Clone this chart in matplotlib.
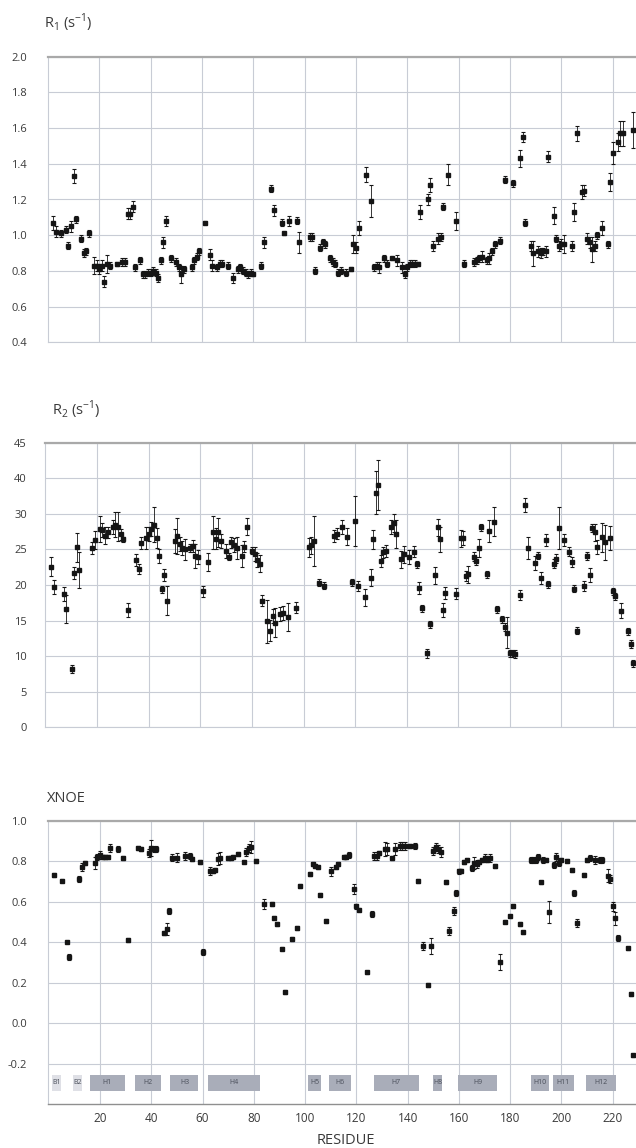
import matplotlib
matplotlib.use('Agg')
import matplotlib.pyplot as plt
from matplotlib.patches import Rectangle

plt.rcParams['font.family'] = ['Open Sans', 'DejaVu Sans']
plt.rcParams['mathtext.fontset'] = 'custom'
plt.rcParams['mathtext.rm'] = 'Open Sans'

# ---------------- data ----------------
r1_res = [2, 3, 5, 7, 8, 9, 10, 11, 13, 14, 15, 16, 18, 19, 20, 21, 22, 23, 24, 27, 29, 30, 31, 32, 33, 34,
          36, 37, 38, 39, 40, 41, 42, 43, 44, 45, 46, 48, 50, 51, 52, 53, 56, 57, 58, 59, 61, 63, 64, 66, 67,
          68, 70, 72, 74, 75, 76, 77, 78, 79, 80, 83, 84, 87, 88, 91, 92, 94, 97, 98, 102, 103, 104, 106, 107,
          108, 110, 111, 112, 113, 114, 116, 118, 119, 120, 121, 124, 126, 127, 128, 129, 131, 132, 134, 136,
          138, 139, 140, 141, 142, 143, 144, 145, 148, 149, 150, 152, 153, 154, 156, 159, 162, 166, 167, 168,
          169, 171, 172, 173, 174, 176, 178, 181, 184, 185, 186, 188, 189, 191, 192, 193, 194, 195, 197, 198,
          199, 200, 201, 204, 205, 206, 208, 209, 210, 211, 212, 213, 214, 216, 218, 219, 220, 222, 223, 224, 228]
r1_val = [1.07, 1.02, 1.01, 1.03, 0.94, 1.05, 1.33, 1.09, 0.98, 0.90, 0.91, 1.01, 0.83, 0.83, 0.81, 0.83, 0.74,
          0.84, 0.83, 0.84, 0.85, 0.85, 1.12, 1.12, 1.16, 0.82, 0.86, 0.78, 0.78, 0.79, 0.79, 0.80, 0.79, 0.76,
          0.86, 0.96, 1.08, 0.87, 0.85, 0.82, 0.78, 0.81, 0.82, 0.86, 0.88, 0.91, 1.07, 0.89, 0.83, 0.82, 0.84,
          0.84, 0.83, 0.76, 0.81, 0.82, 0.80, 0.79, 0.78, 0.79, 0.78, 0.83, 0.96, 1.26, 1.14, 1.07, 1.01, 1.08,
          1.08, 0.96, 0.99, 0.99, 0.80, 0.93, 0.96, 0.95, 0.87, 0.85, 0.84, 0.79, 0.80, 0.79, 0.81, 0.95, 0.93,
          1.04, 1.34, 1.19, 0.82, 0.83, 0.82, 0.87, 0.84, 0.87, 0.86, 0.82, 0.78, 0.82, 0.84, 0.84, 0.84, 0.84,
          1.13, 1.20, 1.28, 0.94, 0.98, 0.99, 1.16, 1.34, 1.08, 0.84, 0.85, 0.86, 0.87, 0.88, 0.86, 0.87, 0.91,
          0.95, 0.97, 1.31, 1.29, 1.43, 1.55, 1.07, 0.94, 0.90, 0.91, 0.90, 0.91, 0.91, 1.44, 1.11, 0.98, 0.94,
          0.95, 0.95, 0.94, 1.13, 1.57, 1.24, 1.25, 0.98, 0.96, 0.92, 0.94, 1.00, 1.04, 0.95, 1.30, 1.46, 1.52,
          1.57, 1.57, 1.59]
r1_err = [0.04, 0.03, 0.02, 0.02, 0.02, 0.03, 0.04, 0.02, 0.02, 0.02, 0.02, 0.02, 0.05, 0.03, 0.03, 0.03, 0.03,
          0.05, 0.02, 0.01, 0.02, 0.02, 0.03, 0.03, 0.03, 0.02, 0.02, 0.02, 0.02, 0.02, 0.02, 0.02, 0.02, 0.02,
          0.02, 0.03, 0.03, 0.02, 0.02, 0.02, 0.05, 0.02, 0.02, 0.02, 0.02, 0.02, 0.01, 0.03, 0.03, 0.02, 0.02,
          0.02, 0.02, 0.03, 0.02, 0.02, 0.02, 0.02, 0.02, 0.02, 0.01, 0.02, 0.03, 0.02, 0.03, 0.02, 0.01, 0.03,
          0.02, 0.06, 0.02, 0.02, 0.02, 0.02, 0.02, 0.02, 0.02, 0.02, 0.02, 0.02, 0.02, 0.02, 0.01, 0.05, 0.03,
          0.04, 0.04, 0.09, 0.02, 0.02, 0.03, 0.02, 0.02, 0.01, 0.03, 0.03, 0.02, 0.02, 0.02, 0.02, 0.02, 0.01,
          0.04, 0.03, 0.04, 0.03, 0.03, 0.02, 0.02, 0.06, 0.05, 0.02, 0.02, 0.02, 0.02, 0.03, 0.02, 0.03, 0.02,
          0.02, 0.02, 0.02, 0.02, 0.05, 0.03, 0.02, 0.03, 0.07, 0.03, 0.03, 0.02, 0.03, 0.03, 0.05, 0.02, 0.03,
          0.03, 0.05, 0.03, 0.05, 0.04, 0.04, 0.03, 0.03, 0.03, 0.07, 0.03, 0.02, 0.04, 0.02, 0.05, 0.06, 0.05,
          0.07, 0.07, 0.10]

r2_res = [2, 3, 7, 8, 10, 11, 12, 13, 18, 19, 21, 22, 23, 24, 26, 27, 28, 29, 30, 32, 35, 36, 37, 39, 40, 41,
          42, 43, 44, 45, 46, 47, 50, 51, 52, 53, 54, 56, 57, 58, 59, 61, 63, 65, 66, 67, 68, 70, 71, 72, 73,
          74, 76, 77, 78, 80, 81, 82, 83, 84, 86, 87, 88, 89, 91, 92, 94, 97, 102, 103, 104, 106, 108, 112,
          113, 115, 117, 119, 120, 121, 124, 126, 127, 128, 129, 130, 131, 132, 134, 135, 136, 138, 139, 141,
          143, 144, 145, 146, 148, 149, 151, 152, 153, 154, 155, 159, 161, 162, 163, 164, 166, 167, 168, 169,
          171, 172, 174, 175, 177, 178, 179, 180, 181, 182, 184, 186, 187, 190, 191, 192, 194, 195, 197, 198,
          199, 201, 203, 204, 205, 206, 209, 210, 211, 212, 213, 214, 216, 217, 219, 220, 221, 223, 226, 227, 228]
r2_val = [22.6, 19.7, 18.7, 16.6, 8.2, 21.7, 25.3, 22.1, 25.2, 26.3, 27.9, 27.7, 26.9, 27.4, 28.1, 28.5, 28.2,
          27.1, 26.4, 16.5, 23.5, 22.2, 25.9, 26.6, 27.2, 27.9, 28.5, 26.6, 24.1, 19.4, 21.4, 17.8, 26.2, 26.9,
          25.8, 25.2, 25.0, 25.2, 25.5, 24.1, 23.9, 19.1, 23.2, 27.4, 26.5, 27.4, 26.2, 24.8, 24.0, 26.0, 25.6,
          25.2, 24.1, 25.4, 28.2, 24.8, 24.4, 23.5, 23.0, 17.8, 14.9, 13.6, 15.6, 14.7, 15.9, 16.1, 15.5, 16.8,
          25.3, 25.6, 26.2, 20.3, 19.9, 26.9, 27.2, 28.1, 26.8, 20.4, 29.0, 19.8, 18.3, 21.0, 26.4, 33.0, 34.0,
          23.4, 24.6, 24.8, 28.2, 28.7, 27.2, 23.6, 24.3, 23.9, 24.7, 22.9, 19.6, 16.7, 10.4, 14.5, 21.4, 28.1,
          26.4, 16.5, 18.9, 18.8, 26.6, 26.6, 21.2, 21.5, 24.0, 23.4, 25.2, 28.1, 21.5, 27.6, 28.9, 16.6, 15.2,
          14.1, 13.3, 10.4, 10.4, 10.3, 18.6, 31.2, 25.2, 23.1, 24.1, 21.0, 26.3, 20.1, 23.0, 23.7, 28.0, 26.3,
          24.7, 23.2, 19.5, 13.6, 19.9, 24.1, 21.4, 28.0, 27.4, 25.3, 26.7, 26.0, 26.6, 19.1, 18.4, 16.4, 13.5,
          11.7, 9.0]
r2_err = [1.4, 1.0, 1.0, 2.0, 0.5, 0.9, 2.0, 2.5, 0.8, 1.3, 1.8, 1.0, 1.2, 0.8, 1.0, 1.8, 2.0, 0.8, 0.3, 1.0,
          0.8, 0.7, 0.8, 1.5, 1.0, 1.0, 2.5, 1.4, 1.0, 0.5, 0.9, 2.0, 1.7, 2.5, 1.0, 1.0, 1.5, 0.6, 0.8, 1.7,
          1.0, 0.8, 1.3, 2.3, 1.5, 2.0, 1.0, 1.0, 0.5, 0.8, 1.0, 1.5, 1.5, 0.8, 1.2, 0.5, 1.0, 1.0, 1.2, 0.8,
          3.0, 1.5, 1.0, 2.0, 1.0, 1.0, 2.0, 0.8, 1.3, 1.2, 3.5, 0.5, 0.5, 0.8, 0.8, 1.0, 1.2, 0.5, 3.5, 0.7,
          1.2, 1.2, 1.3, 3.0, 3.5, 0.8, 0.8, 0.8, 1.0, 1.3, 2.0, 1.2, 1.2, 1.0, 0.8, 0.5, 0.8, 0.5, 0.6, 0.5,
          1.2, 1.2, 1.8, 1.0, 0.8, 0.8, 1.2, 1.0, 0.7, 1.2, 0.6, 0.6, 1.2, 0.5, 0.5, 1.6, 2.0, 0.5, 0.5, 0.5,
          2.2, 0.5, 0.5, 0.6, 0.7, 1.0, 1.5, 1.0, 0.5, 0.8, 0.8, 0.5, 0.6, 0.6, 3.0, 0.8, 0.6, 0.7, 0.5, 0.5,
          0.7, 0.6, 1.0, 0.6, 1.2, 1.0, 2.0, 2.5, 1.7, 0.5, 0.5, 1.0, 0.5, 0.5, 0.5]
r2_tick_labels = ['0', '5', '10', '15', '20', '25', '30', '40', '45']

noe_res = [2, 5, 7, 8, 12, 13, 14, 18, 19, 20, 21, 22, 23, 24, 27, 29, 31, 35, 36, 39, 40, 41, 42, 45, 46, 47,
           48, 50, 53, 55, 56, 59, 60, 63, 64, 65, 66, 67, 70, 71, 72, 74, 76, 77, 78, 79, 81, 84, 87, 88, 89,
           91, 92, 95, 97, 98, 102, 103, 104, 105, 106, 108, 110, 112, 113, 115, 116, 117, 119, 120, 121, 124,
           126, 127, 128, 129, 131, 132, 134, 135, 137, 138, 139, 141, 143, 144, 146, 148, 149, 150, 151, 152,
           153, 155, 156, 158, 159, 160, 161, 162, 163, 165, 166, 167, 168, 169, 170, 171, 172, 174, 176, 178,
           180, 181, 184, 185, 188, 189, 190, 191, 192, 193, 194, 195, 197, 198, 199, 200, 202, 204, 205, 206,
           209, 210, 211, 213, 215, 216, 218, 219, 220, 221, 222, 226, 227, 228]
noe_val = [0.732, 0.704, 0.40, 0.326, 0.712, 0.773, 0.79, 0.79, 0.82, 0.83, 0.82, 0.82, 0.82, 0.866, 0.86, 0.814,
           0.41, 0.865, 0.86, 0.84, 0.866, 0.86, 0.86, 0.447, 0.466, 0.556, 0.818, 0.818, 0.826, 0.826, 0.81,
           0.796, 0.35, 0.75, 0.75, 0.757, 0.81, 0.814, 0.818, 0.814, 0.82, 0.836, 0.795, 0.847, 0.864, 0.87,
           0.80, 0.59, 0.59, 0.52, 0.49, 0.367, 0.154, 0.415, 0.469, 0.675, 0.737, 0.785, 0.777, 0.773, 0.632,
           0.505, 0.749, 0.773, 0.785, 0.822, 0.822, 0.83, 0.663, 0.576, 0.56, 0.25, 0.54, 0.827, 0.827, 0.84,
           0.86, 0.859, 0.814, 0.86, 0.875, 0.875, 0.875, 0.875, 0.875, 0.70, 0.38, 0.187, 0.38, 0.852, 0.872,
           0.86, 0.844, 0.698, 0.454, 0.555, 0.645, 0.749, 0.753, 0.798, 0.806, 0.768, 0.79, 0.785, 0.798, 0.806,
           0.814, 0.806, 0.814, 0.777, 0.30, 0.50, 0.528, 0.579, 0.489, 0.448, 0.806, 0.806, 0.806, 0.819, 0.696,
           0.806, 0.806, 0.548, 0.78, 0.819, 0.79, 0.806, 0.803, 0.757, 0.642, 0.494, 0.732, 0.806, 0.814, 0.806,
           0.806, 0.806, 0.729, 0.712, 0.576, 0.517, 0.42, 0.37, 0.144, -0.159]
noe_err = [0.01, 0.008, 0.006, 0.015, 0.015, 0.02, 0.01, 0.03, 0.015, 0.02, 0.01, 0.01, 0.01, 0.02, 0.015, 0.01,
           0.01, 0.01, 0.01, 0.02, 0.04, 0.015, 0.015, 0.01, 0.03, 0.015, 0.015, 0.02, 0.02, 0.015, 0.01, 0.01,
           0.015, 0.02, 0.01, 0.01, 0.03, 0.03, 0.01, 0.01, 0.01, 0.01, 0.006, 0.02, 0.02, 0.03, 0.01, 0.025,
           0.01, 0.008, 0.008, 0.008, 0.008, 0.01, 0.01, 0.01, 0.008, 0.01, 0.01, 0.01, 0.01, 0.01, 0.02, 0.01,
           0.01, 0.01, 0.01, 0.015, 0.025, 0.01, 0.008, 0.008, 0.015, 0.02, 0.02, 0.01, 0.035, 0.03, 0.01, 0.03,
           0.02, 0.02, 0.02, 0.01, 0.015, 0.01, 0.02, 0.01, 0.04, 0.02, 0.02, 0.02, 0.025, 0.01, 0.02, 0.02,
           0.015, 0.01, 0.01, 0.01, 0.01, 0.015, 0.03, 0.02, 0.01, 0.01, 0.02, 0.01, 0.02, 0.01, 0.04, 0.008,
           0.008, 0.008, 0.008, 0.008, 0.015, 0.015, 0.015, 0.015, 0.008, 0.015, 0.01, 0.055, 0.015, 0.02, 0.015,
           0.01, 0.008, 0.01, 0.015, 0.02, 0.01, 0.01, 0.015, 0.02, 0.015, 0.015, 0.03, 0.02, 0.02, 0.03, 0.015,
           0.008, 0.008, 0.008]

ss_labels = ['B1', 'B2', 'H1', 'H2', 'H3', 'H4', 'H5', 'H6', 'H7', 'H8', 'H9', 'H10', 'H11', 'H12']
ss_start = [1.2, 9.5, 16.1, 33.8, 47.5, 62.3, 101.2, 109.4, 126.8, 149.9, 159.6, 188.0, 196.7, 209.4]
ss_end = [4.8, 13.0, 29.7, 43.7, 58.4, 82.3, 106.2, 117.8, 144.3, 153.5, 174.9, 195.0, 204.8, 221.4]

# ---------------- figure ----------------
W, H = 636, 1148
fig = plt.figure(figsize=(W / 100, H / 100), dpi=100)


def ax_at(left, top, right, bottom):
    return fig.add_axes([left / W, 1 - bottom / H, (right - left) / W, (bottom - top) / H])


GRID = '#c8ccd5'
TOPC = '#a9a9a9'
TXT = '#3a3a3a'


def style(ax, xlim, ylim, yticks, ylabels, pad, bottom_dark=False):
    ax.set_xlim(*xlim)
    ax.set_ylim(*ylim)
    ax.set_xticks(range(20, 221, 20))
    ax.set_yticks(yticks)
    ax.set_yticklabels(ylabels)
    ax.grid(True, color=GRID, lw=0.8)
    ax.set_axisbelow(True)
    for s in ['right']:
        ax.spines[s].set_visible(False)
    ax.spines['top'].set_color(TOPC)
    ax.spines['top'].set_linewidth(1.6)
    ax.spines['left'].set_color(GRID)
    ax.spines['left'].set_linewidth(0.8)
    ax.spines['bottom'].set_color('#8f8f8f' if bottom_dark else GRID)
    ax.spines['bottom'].set_linewidth(1.0 if bottom_dark else 0.8)
    ax.tick_params(axis='y', length=0, labelsize=8, colors=TXT, pad=pad)
    ax.tick_params(axis='x', length=0, labelsize=8.5, colors=TXT, pad=6)


def draw(ax, x, y, e):
    ax.errorbar(x, y, yerr=e, fmt='s', ms=3.4, color='#151515', mec='#151515',
                ecolor='#151515', elinewidth=0.6, capsize=1.6, capthick=0.8, clip_on=True)


# Panel 1
ax1 = ax_at(47.7, 56.7, 636, 342.3)
style(ax1, (-0.1, 229.1), (0.4, 2.0), [0.4, 0.6, 0.8, 1.0, 1.2, 1.4, 1.6, 1.8, 2.0],
      ['0.4', '0.6', '0.8', '1.0', '1.2', '1.4', '1.6', '1.8', '2.0'], pad=15)
ax1.tick_params(axis='x', labelbottom=False)
draw(ax1, r1_res, r1_val, r1_err)

# Panel 2
ax2 = ax_at(45, 442.7, 636, 727.3)
style(ax2, (-0.3, 229.0), (0, 40), list(range(0, 41, 5)), r2_tick_labels, pad=13)
ax2.tick_params(axis='x', labelbottom=False)
draw(ax2, r2_res, r2_val, r2_err)

# Panel 3
ax3 = ax_at(47.7, 820.7, 636, 1104)
style(ax3, (-0.4, 229.1), (-0.4, 1.0), [-0.2, 0.0, 0.2, 0.4, 0.6, 0.8, 1.0],
      ['-0.2', '0.0', '0.2', '0.4', '0.6', '0.8', '1.0'], pad=15, bottom_dark=True)
draw(ax3, noe_res, noe_val, noe_err)

for lab, s, e in zip(ss_labels, ss_start, ss_end):
    col = '#dfe0e6' if lab.startswith('B') else '#a9adb9'
    ax3.add_patch(Rectangle((s, -0.336), e - s, 0.081, facecolor=col, edgecolor='none', zorder=1))
    ax3.text((s + e) / 2, -0.2955, lab, ha='center', va='center', fontsize=5, color='#4a4f5a', zorder=2)

# Titles
fig.text(44 / W, 1 - 23 / H, r'R$_\mathregular{1}$ (s$^\mathregular{-1}$)', fontsize=10.5,
         va='center', ha='left', color=TXT)
fig.text(52 / W, 1 - 410 / H, r'R$_\mathregular{2}$ (s$^\mathregular{-1}$)', fontsize=10.5,
         va='center', ha='left', color=TXT)
fig.text(47 / W, 1 - 798 / H, 'XNOE', fontsize=10.5, va='center', ha='left', color=TXT)
fig.text(346 / W, 1 - 1141 / H, 'RESIDUE', fontsize=10.5, va='center', ha='center', color=TXT)

fig.savefig('out.png', dpi=100)
